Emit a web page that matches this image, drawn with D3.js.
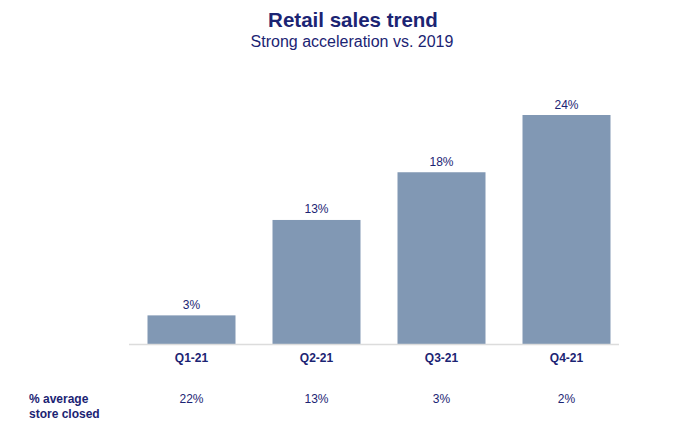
<!DOCTYPE html>
<html>
<head>
<meta charset="utf-8">
<script src="https://cdn.jsdelivr.net/npm/d3@7"></script>
<style>
	body { margin: 0; background: #fff; }
	svg { display: block; font-family: "Liberation Sans", Arial, sans-serif; }
</style>
</head>
<body>
<div id="chart"></div>
<script>
const quarters = ["Q1-21", "Q2-21", "Q3-21", "Q4-21"];
const salesGrowth = [3, 13, 18, 24];
const storesClosed = [22, 13, 3, 2];
const rowLabel = ["% average", "store closed"];
const title = "Retail sales trend";
const subtitle = "Strong acceleration vs. 2019";

const width = 700, height = 426;
const navy = "#1b2473";
const barColor = "#8198b4";

const svg = d3.select("#chart")
	.append("svg")
	.attr("width", width)
	.attr("height", height);

// bars sit on a band scale, axis line is a bit shorter on the right
const x = d3.scaleBand()
	.domain(quarters)
	.range([129, 629])
	.paddingInner(0.296)
	.paddingOuter(0.148);

const y = d3.scaleLinear()
	.domain([0, 24])
	.range([344, 115]);

svg.append("text")
	.attr("x", 353)
	.attr("y", 27)
	.attr("text-anchor", "middle")
	.attr("font-size", 20.5)
	.attr("font-weight", "bold")
	.attr("fill", navy)
	.text(title);

svg.append("text")
	.attr("x", 352)
	.attr("y", 47)
	.attr("text-anchor", "middle")
	.attr("font-size", 16)
	.attr("fill", navy)
	.text(subtitle);

svg.selectAll(".bar")
	.data(salesGrowth)
	.enter()
	.append("rect")
	.attr("class", "bar")
	.attr("x", (d, i) => x(quarters[i]))
	.attr("y", (d) => y(d))
	.attr("width", x.bandwidth())
	.attr("height", (d) => y(0) - y(d))
	.attr("fill", barColor);

svg.selectAll(".val")
	.data(salesGrowth)
	.enter()
	.append("text")
	.attr("class", "val")
	.attr("x", (d, i) => x(quarters[i]) + x.bandwidth()/2)
	.attr("y", (d) => y(d) - 6.5)
	.attr("text-anchor", "middle")
	.attr("font-size", 12)
	.attr("fill", navy)
	.text((d) => d + "%");

// axis: baseline + bold category labels
const axis = svg.append("g")
	.attr("transform", "translate(0," + y(0) + ")")
	.call(d3.axisBottom(x).tickSize(0).tickPadding(9));
axis.select(".domain")
	.attr("d", "M" + x.range()[0] + ",0.5H" + (x.range()[1] - 10))
	.attr("stroke", "#dcdcdc")
	.attr("stroke-width", 1.5);
axis.selectAll(".tick text")
	.attr("font-family", "Liberation Sans, Arial, sans-serif")
	.attr("font-size", 12)
	.attr("font-weight", "bold")
	.attr("fill", navy);

svg.append("text")
	.attr("x", 29)
	.attr("y", 402.5)
	.attr("font-size", 12)
	.attr("font-weight", "bold")
	.attr("fill", navy)
	.selectAll("tspan")
	.data(rowLabel)
	.enter()
	.append("tspan")
	.attr("x", 29)
	.attr("dy", (d, i) => i ? 15 : 0)
	.text((d) => d);

svg.selectAll(".closed")
	.data(storesClosed)
	.enter()
	.append("text")
	.attr("class", "closed")
	.attr("x", (d, i) => x(quarters[i]) + x.bandwidth()/2)
	.attr("y", 402.5)
	.attr("text-anchor", "middle")
	.attr("font-size", 12)
	.attr("fill", navy)
	.text((d) => d + "%");
</script>
</body>
</html>
